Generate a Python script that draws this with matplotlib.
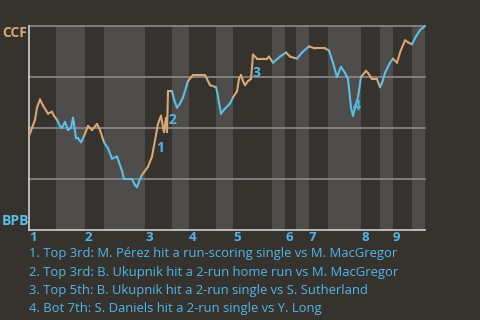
import matplotlib
matplotlib.use("Agg")
import matplotlib.pyplot as plt
import numpy as np
from matplotlib.collections import LineCollection

# game progress (0..396) and CCF win probability (%)
progress = [0, 3, 6, 8, 11, 14, 19, 23, 25, 28, 31, 33, 36, 39, 42, 44, 45, 47, 49, 52,
            55, 59, 63, 68, 71, 75, 79, 83, 88, 93, 95, 103, 106, 108, 111, 113, 119, 123,
            126, 129, 132, 133, 135, 137, 138, 139, 143, 145, 148, 151, 154, 159, 164, 176,
            181, 187, 188, 192, 195, 201, 204, 208, 210, 212, 214, 216, 219, 222, 223, 224,
            228, 238, 240, 244, 251, 257, 261, 268, 273, 280, 286, 291, 296, 300, 304, 308,
            312, 316, 319, 322, 324, 326, 329, 332, 337, 339, 343, 348, 351, 353, 356, 361,
            364, 368, 371, 376, 379, 383, 387, 391, 396]
ccf_wp = [46, 50, 54, 60, 64, 61, 57, 58, 56, 54, 51, 50, 53, 49, 50, 55, 52, 45, 45, 43,
          46, 51, 49, 52, 49, 43, 40, 35, 36, 29, 25, 25, 22, 21, 25, 27, 31, 36,
          44, 52, 56, 53, 48, 55, 48, 68, 68, 64, 60, 62, 65, 73, 76, 76,
          71, 70, 68, 57, 59, 62, 65, 68, 74, 76, 73, 71, 73, 74, 80, 86,
          84, 84, 85, 82, 85, 87, 85, 84, 87, 90, 89, 89, 89, 88, 82, 75,
          80, 77, 74, 60, 56, 60, 65, 75, 78, 77, 74, 74, 70, 72, 77, 82,
          84, 82, 87, 93, 92, 91, 95, 98, 100]

# half-inning starts (top 1, bot 1, top 2, ...)
half_starts = [0, 27, 56, 75, 116, 143, 160, 187, 204, 243, 256, 267, 280, 299, 332, 351, 364, 383, 396]
innings = ["1", "2", "3", "4", "5", "6", "7", "8", "9"]

events = [
    ("1", 131, 40),
    ("2", 143, 54),
    ("3", 227, 77),
    ("4", 328, 61),
]
notes = [
    "1. Top 3rd: M. Pérez hit a run-scoring single vs M. MacGregor",
    "2. Top 3rd: B. Ukupnik hit a 2-run home run vs M. MacGregor",
    "3. Top 5th: B. Ukupnik hit a 2-run single vs S. Sutherland",
    "4. Bot 7th: S. Daniels hit a 2-run single vs Y. Long",
]

bg = "#36332f"
band = "#4f4d4b"
tan = "#d8a872"
blue = "#5cbfe6"
txt_blue = "#4fb6ea"

plt.rcParams["font.family"] = ["Open Sans", "DejaVu Sans"]

fig = plt.figure(figsize=(4.8, 3.2), dpi=100, facecolor=bg)
ax = fig.add_axes([29 / 480, 1 - 230 / 320, 396 / 480, 204 / 320])
ax.set_facecolor(bg)
ax.set_xlim(0, 396)
ax.set_ylim(0, 100)

# shade bottom halves
for i in range(1, len(half_starts) - 1, 2):
    ax.axvspan(half_starts[i], half_starts[i + 1], color=band, lw=0, zorder=0)

for yv in [25, 50, 75, 100]:
    ax.axhline(yv, color="#8c8a88", lw=1.2, zorder=1, clip_on=False)

# line coloured by half inning
x = np.array(progress, dtype=float)
y = np.array(ccf_wp, dtype=float)
segs = np.stack([np.column_stack([x[:-1], y[:-1]]), np.column_stack([x[1:], y[1:]])], axis=1)
mids = (x[:-1] + x[1:]) / 2
half_idx = np.searchsorted(half_starts, mids, side="right") - 1
cols = [tan if h % 2 == 0 else blue for h in half_idx]
lc = LineCollection(segs, colors=cols, linewidths=1.5, zorder=3, capstyle="round", joinstyle="round")
lc.set_clip_on(False)
ax.add_collection(lc)

for lab, ex, ey in events:
    ax.text(ex, ey, lab, color=txt_blue, fontsize=10, fontweight="bold",
            ha="center", va="center", zorder=4)

for s in ["top", "right"]:
    ax.spines[s].set_visible(False)
for s in ["left", "bottom"]:
    ax.spines[s].set_color("#d0d0d0")
    ax.spines[s].set_linewidth(1.2)
ax.set_xticks([])
ax.set_yticks([])

for lab, hs in zip(innings, half_starts[0::2]):
    ax.text(hs, -3.6, lab, color=txt_blue, fontsize=9.5, fontweight="bold",
            ha="left", va="center", transform=ax.transData)

fig.text(2 / 480, 1 - 33 / 320, "CCF", color=tan, fontsize=10, fontweight="bold", ha="left", va="center")
fig.text(2 / 480, 1 - 221 / 320, "BPB", color=blue, fontsize=10, fontweight="bold", ha="left", va="center")

for i, n in enumerate(notes):
    fig.text(29 / 480, 1 - (254 + i * 18.3) / 320, n, color=txt_blue, fontsize=9.4,
             ha="left", va="center")

fig.savefig("out.png", dpi=100, facecolor=bg)
